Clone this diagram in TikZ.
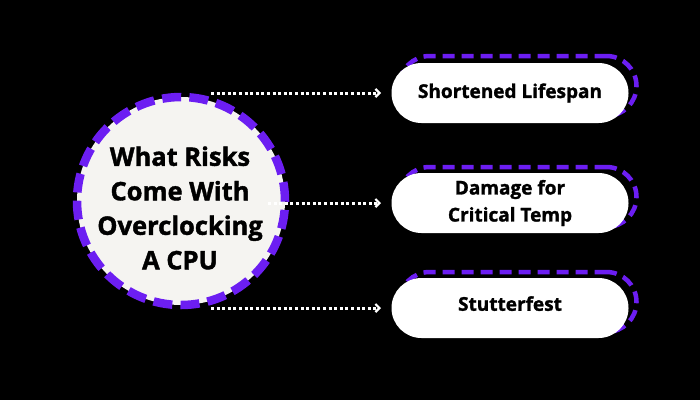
\documentclass[tikz,border=0pt]{standalone}
\usepackage{fontspec}
\setmainfont{Open Sans}[BoldFeatures={FakeBold=1.5}]
\usetikzlibrary{arrows.meta}
\definecolor{vio}{RGB}{108,30,242}
\definecolor{offw}{RGB}{245,244,241}
\tikzset{
  pill/.style={fill=white, rounded corners=30pt, minimum width=237pt, minimum height=60pt, inner sep=0pt, align=center, font=\bfseries\fontsize{19}{27}\selectfont, text=black},
  pillback/.style={draw=vio, line width=4.5pt, dash pattern=on 12pt off 7pt, rounded corners=30pt, minimum width=237pt, minimum height=60pt, inner sep=0pt},
  hub/.style={circle, fill=offw, draw=vio, line width=8.5pt, dash pattern=on 19pt off 8.2pt, minimum size=208pt, inner sep=0pt},
  hubtext/.style={align=center, inner sep=0pt, font=\bfseries\fontsize{25.5}{34.5}\selectfont, text=black},
  link/.style={draw=white, line width=3pt, dash pattern=on 3pt off 2.6pt, -{Straight Barb[length=4pt,width=8pt,line width=2.2pt]}}
}
\begin{document}
\begin{tikzpicture}[x=1pt,y=-1pt]
\useasboundingbox[fill=black] (0,0) rectangle (700,400);
\node[hub] (c) at (181,201) {};
\node[hubtext] (ct) at (180,208) {What Risks\\Come With\\Overclocking\\A CPU};
\node[pillback] (b1) at (518,86) {};
\node[pill] (p1) at (510,93) {Shortened Lifespan};
\node[pillback] (b2) at (518,197) {};
\node[pill] (p2) at (510,203) {Damage for\\Critical Temp};
\node[pillback] (b3) at (518,302) {};
\node[pill, text depth=9pt] (p3) at (510,308) {Stutterfest};
\coordinate (s1) at (211,93);
\coordinate (s2) at (268,203);
\coordinate (s3) at (211,308);
\draw[link] (s1) -- (p1.west -| 381,0);
\draw[link] (s2) -- (p2.west -| 381,0);
\draw[link] (s3) -- (p3.west -| 381,0);
\end{tikzpicture}
\end{document}
